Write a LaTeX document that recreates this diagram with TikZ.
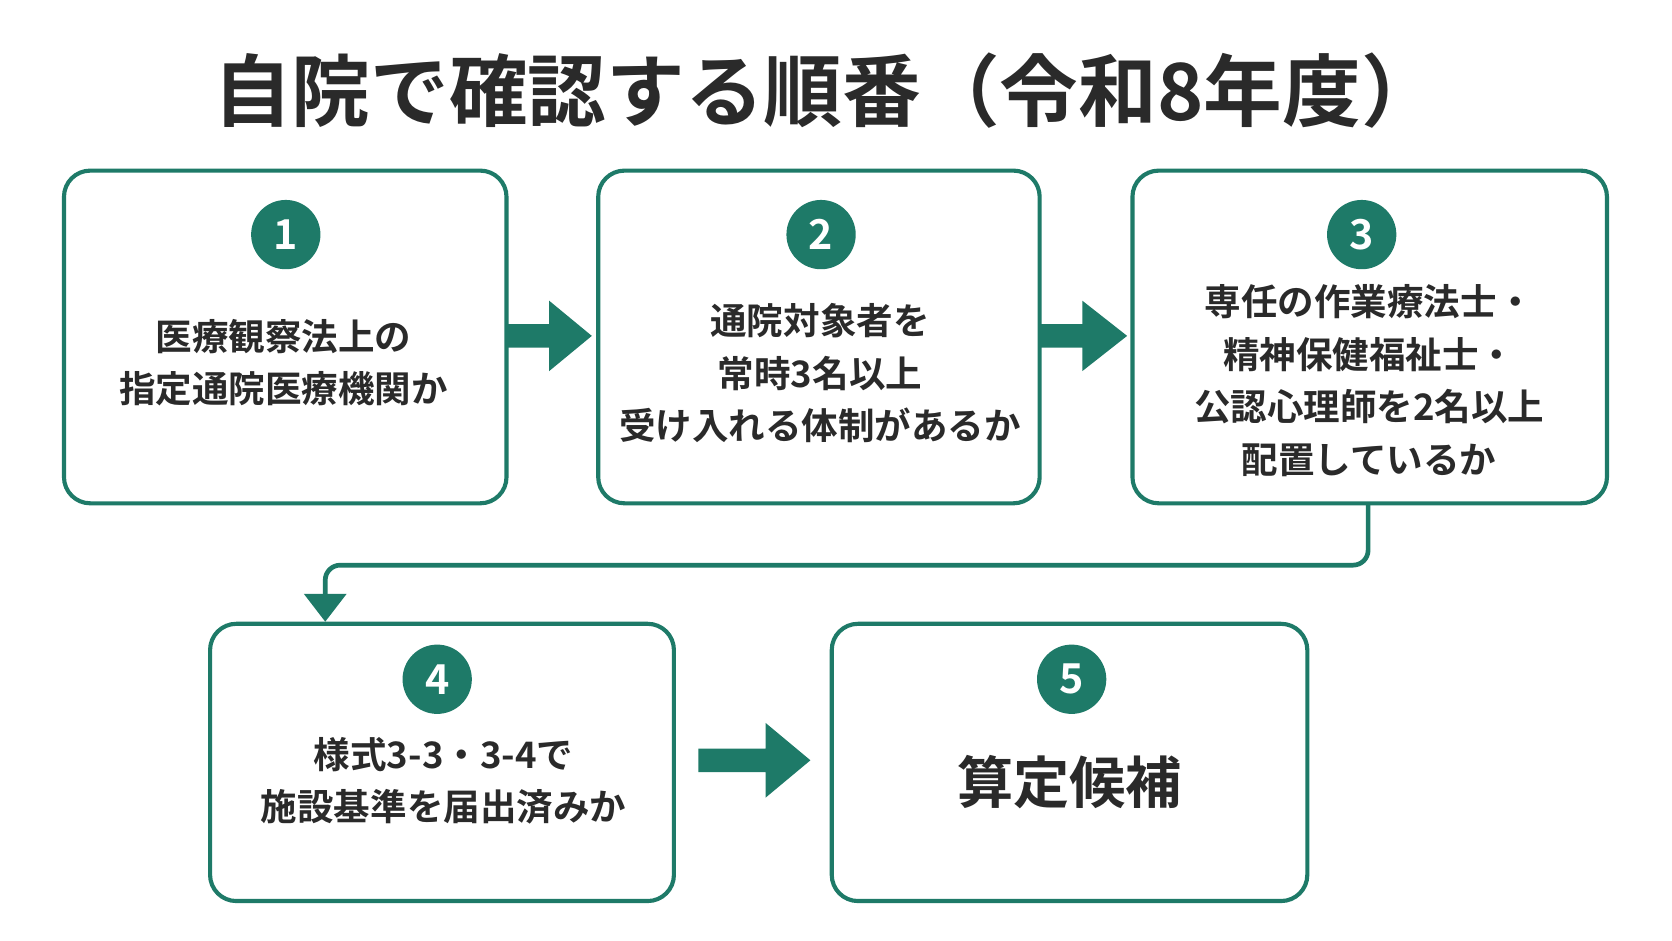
\documentclass[tikz,border=0pt]{standalone}
\usepackage{fontspec}
\setmainfont{Noto Sans CJK JP}[BoldFont={Noto Sans CJK JP Bold}]
\definecolor{gr}{HTML}{1E7A68}
\definecolor{tx}{HTML}{2A2A2A}
\begin{document}
\begin{tikzpicture}[x=0.02cm,y=-0.02cm,
  box/.style={draw=gr,line width=2.2pt,rounded corners=14pt,fill=white},
  num/.style={circle,fill=gr,text=white,minimum size=1.3cm,inner sep=0pt,font=\bfseries\fontsize{22}{22}\selectfont},
  lbl/.style={align=center,text=tx,font=\bfseries\fontsize{19.5}{28}\selectfont},
  fat/.style={fill=gr}]
\useasboundingbox[fill=white] (0,0) rectangle (1568,882);
\node[text=tx,font=\bfseries\fontsize{42}{42}\selectfont] (title) at (775,85) {自院で確認する順番（令和8年度）};
\draw[box] (60,160) rectangle (475,472);
\draw[box] (561,160) rectangle (975,472);
\draw[box] (1062,160) rectangle (1507,472);
\draw[box] (197,585) rectangle (632,845);
\draw[box] (780,585) rectangle (1226,845);
\node[num] (n1) at (268,220) {1};
\node[num] (n2) at (770,220) {2};
\node[num] (n3) at (1277,220) {3};
\node[num] (n4) at (410,637) {4};
\node[num] (n5) at (1005,637) {5};
\node[lbl] (t1) at (266,340) {医療観察法上の\\指定通院医療機関か};
\node[lbl] (t2) at (769,350) {通院対象者を\\常時3名以上\\受け入れる体制があるか};
\node[lbl] (t3) at (1284,357) {専任の作業療法士・\\精神保健福祉士・\\公認心理師を2名以上\\配置しているか};
\node[lbl] (t4) at (416,732) {様式3-3・3-4で\\施設基準を届出済みか};
\node[text=tx,font=\bfseries\fontsize{30}{30}\selectfont] (t5) at (1003,733) {算定候補};
\fill[fat] (475,304) -- (515,304) -- (515,282) -- (555,315) -- (515,348) -- (515,326) -- (475,326) -- cycle;
\fill[fat] (975,304) -- (1015,304) -- (1015,282) -- (1057,315) -- (1015,348) -- (1015,326) -- (975,326) -- cycle;
\fill[fat] (655,702) -- (718,702) -- (718,678) -- (760,713) -- (718,748) -- (718,724) -- (655,724) -- cycle;
\coordinate (c3) at (1283,472);
\coordinate (c4) at (305,567);
\draw[gr,line width=2.5pt,rounded corners=8pt] (c3) -- (1283,530) -- (305,530) -- (c4);
\fill[gr] (285,557) -- (325,557) -- (305,583) -- cycle;
\end{tikzpicture}
\end{document}
